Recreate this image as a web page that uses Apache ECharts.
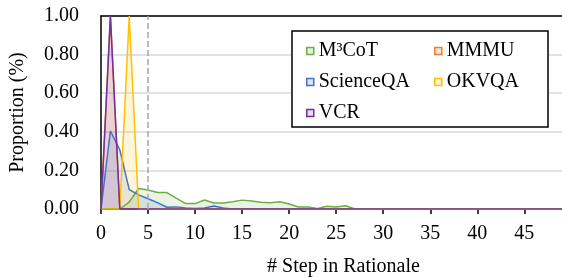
<!DOCTYPE html>
<html lang="en">

<head>
    <meta charset="UTF-8">
    <title># Step in Rationale</title>
    <script type="text/javascript" src="https://cdn.jsdelivr.net/npm/echarts@6/dist/echarts.min.js"></script>
    <style>
        html,
        body {
            margin: 0;
            padding: 0;
            background: #fff;
        }

        #container {
            width: 562px;
            height: 277px;
        }
    </style>
</head>

<body>
    <div id="container"></div>
    <script>
        let steps = [0, 1, 2, 3, 4, 5, 6, 7, 8, 9, 10, 11, 12, 13, 14, 15, 16, 17, 18, 19,
            20, 21, 22, 23, 24, 25, 26, 27, 28, 29, 30, 31, 32, 33, 34, 35, 36, 37, 38, 39,
            40, 41, 42, 43, 44, 45, 46, 47, 48, 49];
        let yTicks = [0, 0.2, 0.4, 0.6, 0.8, 1.0];

        // one value per step (tail is zero)
        let m3cot = [0, 0, 0, 0.036, 0.106, 0.098, 0.086, 0.085, 0.056, 0.028, 0.028, 0.047, 0.031, 0.031,
            0.037, 0.046, 0.041, 0.035, 0.033, 0.038, 0.026, 0.01, 0.01, 0.003, 0.014, 0.01, 0.017, 0];
        let mmmu = [0, 1.0, 0, 0];
        let scienceqa = [0, 0.404, 0.306, 0.1, 0.073, 0.053, 0.033, 0.009, 0.011, 0.005, 0.003, 0.005,
            0.015, 0.005, 0];
        let okvqa = [0, 0, 0, 1.0, 0, 0];
        let vcr = [0, 1.0, 0, 0];

        let names = ['M³CoT', 'MMMU', 'ScienceQA', 'OKVQA', 'VCR'];
        let colors = ['#70AD47', '#ED7D31', '#4472C4', '#FFC000', '#7030A0'];
        let fills = ['rgba(112,173,71,0.2)', 'rgba(237,125,49,0.22)', 'rgba(68,114,196,0.2)',
            'rgba(255,192,0,0.22)', 'rgba(112,48,160,0.18)'];
        let values = [m3cot, mmmu, scienceqa, okvqa, vcr];

        let font = 'Liberation Serif';

        function pad(arr) {
            let out = arr.slice();
            while (out.length < steps.length) out.push(0);
            return out;
        }

        function legendItem(name) {
            let i = names.indexOf(name);
            return {
                name: name,
                itemStyle: {
                    color: fills[i],
                    borderColor: colors[i],
                    borderWidth: 1.5,
                },
            };
        }

        let legendBase = {
            orient: 'vertical',
            top: 36,
            icon: 'rect',
            itemWidth: 7,
            itemHeight: 7,
            itemGap: 11,
            selectedMode: false,
            textStyle: {
                fontFamily: font,
                fontSize: 20,
                color: '#000',
            },
        };

        let chart = echarts.init(document.getElementById('container'));
        let option = {
            animation: false,
            textStyle: { fontFamily: font },
            grid: {
                left: 101,
                right: 0,
                top: 16,
                bottom: 68,
                outerBoundsMode: 'none',
                containLabel: false,
            },
            legend: [
                Object.assign({}, legendBase, { left: 301, data: ['M³CoT', 'ScienceQA', 'VCR'].map(legendItem) }),
                Object.assign({}, legendBase, { left: 429, data: ['MMMU', 'OKVQA'].map(legendItem) }),
            ],
            graphic: [{
                type: 'rect',
                z: 3,
                shape: { x: 292, y: 31, width: 256, height: 96 },
                style: { fill: '#fff', stroke: '#000', lineWidth: 1.5 },
            }],
            xAxis: [{
                type: 'category',
                data: steps,
                boundaryGap: false,
                name: '# Step in Rationale',
                nameLocation: 'middle',
                nameGap: 48,
                nameTextStyle: {
                    fontFamily: font,
                    fontSize: 20,
                    color: '#000',
                    padding: [0, 0, 0, 24],
                },
                axisLine: { lineStyle: { color: '#000', width: 1.5 } },
                axisTick: { interval: 4, length: 5, lineStyle: { color: '#000', width: 1.5 } },
                axisLabel: {
                    interval: 4,
                    margin: 15,
                    fontFamily: font,
                    fontSize: 20,
                    color: '#000',
                },
                splitLine: { show: false },
            }, {
                type: 'value',
                position: 'top',
                min: 0,
                max: 1,
                axisLine: { show: true, lineStyle: { color: '#000', width: 1.5 } },
                axisTick: { show: false },
                axisLabel: { show: false },
                splitLine: { show: false },
            }],
            yAxis: {
                type: 'value',
                min: yTicks[0],
                max: yTicks[yTicks.length - 1],
                interval: 0.2,
                name: 'Proportion (%)',
                nameLocation: 'middle',
                nameGap: 73,
                nameTextStyle: { fontFamily: font, fontSize: 20, color: '#000' },
                axisLine: { show: true, lineStyle: { color: '#000', width: 1.5 } },
                axisTick: { show: false },
                axisLabel: {
                    margin: 22,
                    fontFamily: font,
                    fontSize: 20,
                    color: '#000',
                    formatter: v => v.toFixed(2),
                },
                splitLine: { lineStyle: { color: '#d9d9d9', width: 1.5 } },
            },
            series: names.map((name, i) => ({
                name: name,
                type: 'line',
                xAxisIndex: 0,
                data: pad(values[i]),
                symbol: 'none',
                lineStyle: { color: colors[i], width: 1.5 },
                itemStyle: { color: colors[i] },
                areaStyle: { color: fills[i] },
                markLine: i === 0 ? {
                    silent: true,
                    symbol: 'none',
                    label: { show: false },
                    lineStyle: { color: '#a6a6a6', type: 'dashed', width: 1.5 },
                    data: [{ xAxis: 5 }],
                } : undefined,
            })),
        };
        chart.setOption(option);
    </script>
</body>

</html>
